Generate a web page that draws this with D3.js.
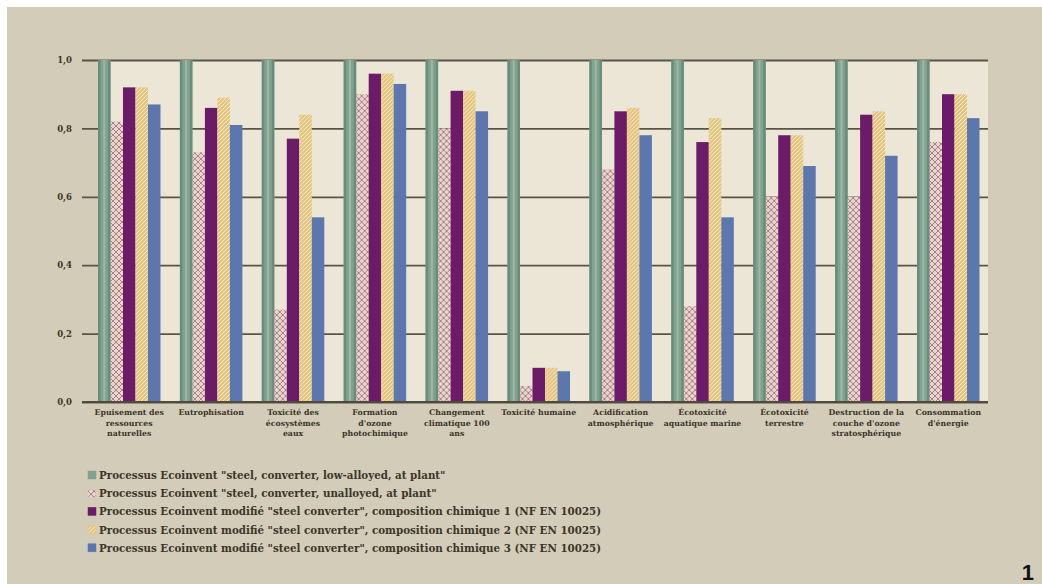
<!DOCTYPE html>
<html>
<head>
<meta charset="utf-8">
<script src="https://cdn.jsdelivr.net/npm/d3@7"></script>
<style>
  html, body { margin: 0; padding: 0; background: #ffffff; }
  svg { display: block; }
  text { font-family: "DejaVu Serif", "Liberation Serif", serif; fill: #3b3629; }
</style>
</head>
<body>
<svg id="chart" width="1042" height="584"></svg>
<script>
// Impact categories (normalised to the low-alloyed reference process = 1)
const categories = [
  ["Epuisement des", "ressources", "naturelles"],
  ["Eutrophisation"],
  ["Toxicité des", "écosystèmes", "eaux"],
  ["Formation", "d'ozone", "photochimique"],
  ["Changement", "climatique 100", "ans"],
  ["Toxicité humaine"],
  ["Acidification", "atmosphérique"],
  ["Écotoxicité", "aquatique marine"],
  ["Écotoxicité", "terrestre"],
  ["Destruction de la", "couche d'ozone", "stratosphérique"],
  ["Consommation", "d'énergie"]
];

const seriesNames = [
  "Processus Ecoinvent \"steel, converter, low-alloyed, at plant\"",
  "Processus Ecoinvent \"steel, converter, unalloyed, at plant\"",
  "Processus Ecoinvent modifié \"steel converter\", composition chimique 1 (NF EN 10025)",
  "Processus Ecoinvent modifié \"steel converter\", composition chimique 2 (NF EN 10025)",
  "Processus Ecoinvent modifié \"steel converter\", composition chimique 3 (NF EN 10025)"
];

const lowAlloyed  = [1, 1, 1, 1, 1, 1, 1, 1, 1, 1, 1];
const unalloyed   = [0.82, 0.73, 0.27, 0.90, 0.80, 0.047, 0.68, 0.28, 0.60, 0.60, 0.76];
const chemComp1   = [0.92, 0.86, 0.77, 0.96, 0.91, 0.10, 0.85, 0.76, 0.78, 0.84, 0.90];
const chemComp2   = [0.92, 0.89, 0.84, 0.96, 0.91, 0.10, 0.86, 0.83, 0.78, 0.85, 0.90];
const chemComp3   = [0.87, 0.81, 0.54, 0.93, 0.85, 0.09, 0.78, 0.54, 0.69, 0.72, 0.83];

const yTicks = [0, 0.2, 0.4, 0.6, 0.8, 1.0];

const seriesValues = [lowAlloyed, unalloyed, chemComp1, chemComp2, chemComp3];

const svg = d3.select("#chart");

// page background with a thin white frame on the top and left
svg.append("rect").attr("x", 7).attr("y", 7).attr("width", 1035).attr("height", 577).attr("fill", "#d3ccb8");

// fill patterns for the five series
const defs = svg.append("defs");

const pGreen = defs.append("pattern").attr("id", "pGreen").attr("patternUnits", "userSpaceOnUse")
  .attr("width", 4).attr("height", 4);
pGreen.append("rect").attr("width", 4).attr("height", 4).attr("fill", "#80a28f");

const pPink = defs.append("pattern").attr("id", "pPink").attr("patternUnits", "userSpaceOnUse")
  .attr("width", 6).attr("height", 6);
pPink.append("rect").attr("width", 6).attr("height", 6).attr("fill", "#ebd2d3");
pPink.append("path").attr("d", "M0,0 L6,6 M6,0 L0,6").attr("stroke", "#a4857d").attr("stroke-width", 1);

const pPurple = defs.append("pattern").attr("id", "pPurple").attr("patternUnits", "userSpaceOnUse")
  .attr("width", 4).attr("height", 4);
pPurple.append("rect").attr("width", 4).attr("height", 4).attr("fill", "#6b1b68");

const pYellow = defs.append("pattern").attr("id", "pYellow").attr("patternUnits", "userSpaceOnUse")
  .attr("width", 4).attr("height", 4);
pYellow.append("rect").attr("width", 4).attr("height", 4).attr("fill", "#e3c47c");
pYellow.append("path").attr("d", "M0,4 L4,0 M-1,1 L1,-1 M3,5 L5,3").attr("stroke", "#f6ecd0").attr("stroke-width", 1);

const pBlue = defs.append("pattern").attr("id", "pBlue").attr("patternUnits", "userSpaceOnUse")
  .attr("width", 4).attr("height", 4);
pBlue.append("rect").attr("width", 4).attr("height", 4).attr("fill", "#5b77ae");

const fills = ["url(#pGreen)", "url(#pPink)", "url(#pPurple)", "url(#pYellow)", "url(#pBlue)"];
const swatch = ["#80a28f", "#e6c9cc", "#6b1b68", "#e3c47c", "#5b77ae"];

// plot geometry
const plotLeft = 98, plotRight = 988, plotTop = 60, plotBottom = 402;

const y = d3.scaleLinear().domain([0, 1]).range([plotBottom, plotTop]);
const x0 = d3.scaleBand().domain(d3.range(categories.length))
  .range([plotLeft, 979.5]).paddingInner(0.237).paddingOuter(0);
const x1 = d3.scaleBand().domain(d3.range(seriesValues.length))
  .range([0, x0.bandwidth()]).padding(0);

// plot area
svg.append("rect").attr("x", plotLeft).attr("y", plotTop)
  .attr("width", plotRight - plotLeft).attr("height", plotBottom - plotTop)
  .attr("fill", "#ece6d7");

// horizontal grid lines and tick labels
const yAxis = d3.axisLeft(y).tickValues(yTicks)
  .tickSize(plotRight - 82)
  .tickFormat(d => d3.format(".1f")(d).replace(".", ","));
const gy = svg.append("g").attr("transform", `translate(${plotRight},0)`).call(yAxis);
gy.select(".domain").remove();
gy.selectAll(".tick line").attr("stroke", "#5a5444").attr("stroke-width", 1.8);
gy.selectAll(".tick text").attr("x", -(plotRight - 82) - 10)
  .attr("font-size", 8.5).attr("font-weight", "bold").attr("fill", "#4a4538");

// bars
const groups = svg.append("g").selectAll("g")
  .data(categories.map((c, i) => i))
  .join("g")
  .attr("transform", i => `translate(${x0(i)},0)`);

groups.selectAll("rect")
  .data(i => seriesValues.map((s, k) => ({ k, v: s[i] })))
  .join("rect")
  .attr("x", d => x1(d.k))
  .attr("width", x1.bandwidth())
  .attr("y", d => y(d.v))
  .attr("height", d => y(0) - y(d.v))
  .attr("fill", d => fills[d.k]);

// darker edges and a light core on the reference bars
groups.each(function (i) {
  const g = d3.select(this);
  const bx = x1(0), bw = x1.bandwidth();
  const top = y(lowAlloyed[i]), h = y(0) - y(lowAlloyed[i]);
  g.append("rect").attr("x", bx).attr("width", 2.5).attr("y", top).attr("height", h).attr("fill", "#6a8c7a");
  g.append("rect").attr("x", bx + bw - 2.5).attr("width", 2.5).attr("y", top).attr("height", h).attr("fill", "#6a8c7a");
  g.append("rect").attr("x", bx + bw / 2 - 1).attr("width", 2).attr("y", top).attr("height", h).attr("fill", "#9cb8a7");
});

// baseline
svg.append("line").attr("x1", 82).attr("x2", plotRight)
  .attr("y1", y(0)).attr("y2", y(0)).attr("stroke", "#4f4a3c").attr("stroke-width", 2.2);

// category labels
const labels = svg.append("g").selectAll("text")
  .data(categories.map((c, i) => ({ c, i })))
  .join("text")
  .attr("x", d => x0(d.i) + x0.bandwidth() / 2)
  .attr("y", 415)
  .attr("text-anchor", "middle")
  .attr("font-size", 7.8)
  .attr("font-weight", "bold");
labels.selectAll("tspan")
  .data(d => d.c.map(line => ({ line, x: x0(d.i) + x0.bandwidth() / 2 })))
  .join("tspan")
  .attr("x", d => d.x)
  .attr("dy", (d, j) => j === 0 ? 0 : 10.5)
  .text(d => d.line);

// legend
const legend = svg.append("g").selectAll("g")
  .data(seriesNames.map((n, k) => ({ n, k })))
  .join("g")
  .attr("transform", d => `translate(88, ${479 + d.k * 18.2})`);
legend.append("rect").attr("x", 0).attr("y", -8).attr("width", 8).attr("height", 8)
  .attr("fill", d => fills[d.k]).attr("stroke", d => swatch[d.k]).attr("stroke-width", 0.5);
legend.append("text").attr("x", 11).attr("y", 0)
  .attr("font-size", 10.3).attr("font-weight", "bold")
  .text(d => d.n);

// figure number
svg.append("text").attr("x", 1034).attr("y", 580).attr("text-anchor", "end")
  .attr("font-size", 22).attr("font-weight", "bold")
  .style("font-family", "'Liberation Sans', Arial, sans-serif").style("fill", "#111")
  .text("1");
</script>
</body>
</html>
